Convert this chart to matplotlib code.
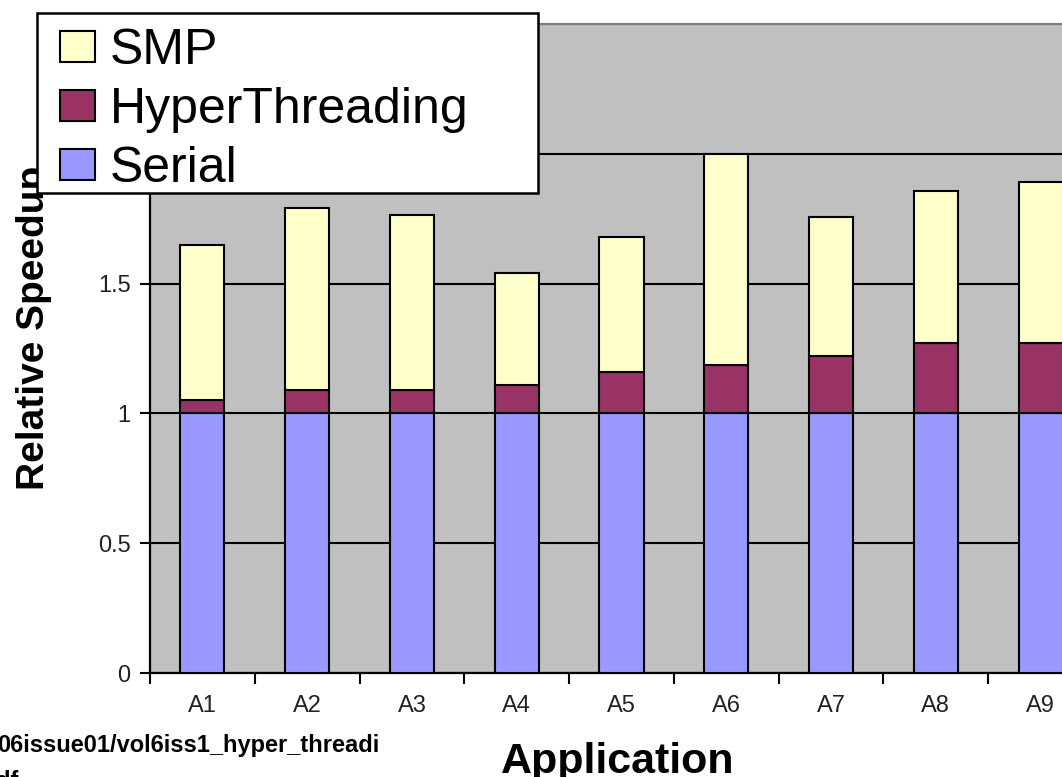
import matplotlib
matplotlib.use("Agg")
import matplotlib.pyplot as plt
from matplotlib.patches import Rectangle
import numpy as np

plt.rcParams['font.family'] = ['Liberation Sans', 'DejaVu Sans']

applications = ["A1", "A2", "A3", "A4", "A5", "A6", "A7", "A8", "A9"]
serial = [1.0, 1.0, 1.0, 1.0, 1.0, 1.0, 1.0, 1.0, 1.0]
hyperthreading = [0.05, 0.09, 0.09, 0.11, 0.16, 0.185, 0.22, 0.27, 0.27]
smp = [0.60, 0.70, 0.675, 0.43, 0.52, 0.815, 0.535, 0.585, 0.62]
y_ticks = [0, 0.5, 1, 1.5, 2, 2.5]
y_tick_labels = ["0", "0.5", "1", "1.5", "2", "2.5"]

W, H = 1062, 777
fig = plt.figure(figsize=(W / 100, H / 100), dpi=100)
fig.patch.set_facecolor("white")

# plot area in pixel terms: left 150, right 1093 (runs past the page edge), top 24, bottom 673
ax = fig.add_axes([150 / W, (H - 673) / H, (1093 - 150) / W, (673 - 24) / H])
ax.set_facecolor("#C0C0C0")

x = np.arange(len(applications))
lw = 1.5
edge = "black"
bottom_ht = np.array(serial)
bottom_smp = bottom_ht + np.array(hyperthreading)

b1 = ax.bar(x, serial, width=0.42, color="#9999FF", edgecolor=edge, linewidth=lw, zorder=3, label="Serial")
b2 = ax.bar(x, hyperthreading, width=0.42, bottom=bottom_ht, color="#993366", edgecolor=edge,
            linewidth=lw, zorder=3, label="HyperThreading")
b3 = ax.bar(x, smp, width=0.42, bottom=bottom_smp, color="#FFFFCC", edgecolor=edge,
            linewidth=lw, zorder=3, label="SMP")

ax.set_xlim(-0.5, len(applications) - 0.5)
ax.set_ylim(0, 2.5)

ax.set_yticks(y_ticks)
ax.set_yticklabels(y_tick_labels, fontsize=17, color="#222222")
ax.yaxis.grid(True, color="black", linewidth=1.5, zorder=1)
ax.set_axisbelow(True)
ax.tick_params(axis="y", direction="out", length=7, width=1.5, pad=7, color="black")

ax.set_xticks(x)
ax.set_xticklabels(applications, fontsize=17, color="#222222")
ax.tick_params(axis="x", which="major", length=0, pad=16)
ax.set_xticks(np.arange(len(applications) + 1) - 0.5, minor=True)
ax.tick_params(axis="x", which="minor", direction="out", length=8, width=1.5, color="black")

for side in ("left", "bottom"):
    ax.spines[side].set_color("black")
    ax.spines[side].set_linewidth(1.6)
ax.spines["top"].set_color("#808080")
ax.spines["top"].set_linewidth(1.6)
ax.spines["right"].set_visible(False)

ax.set_ylabel("Relative Speedup", fontsize=28, fontweight="bold")
ax.yaxis.set_label_coords((52 - 150) / 943, (673 - 328) / 649)
ax.set_xlabel("Application", fontsize=31, fontweight="bold")
ax.xaxis.set_label_coords((618 - 150) / 943, (673 - 742) / 649)

# legend frame: px x 37..538, y 13..193
frame = Rectangle((37 / W, 1 - 193 / H), (538 - 37) / W, (193 - 13) / H,
                  transform=fig.transFigure, facecolor="white", edgecolor="black",
                  linewidth=1.8, zorder=4)
fig.patches.append(frame)

leg = fig.legend(handles=[b3, b2, b1], labels=["SMP", "HyperThreading", "Serial"],
                 loc="upper left", bbox_to_anchor=(60 / W, 1 - 28 / H),
                 borderaxespad=0, fontsize=36, frameon=False,
                 handlelength=0.7, handleheight=0.6,
                 handletextpad=0.3, borderpad=0, labelspacing=0.26)
leg.set_zorder(5)
for h in leg.legend_handles:
    h.set_edgecolor("black")
    h.set_linewidth(1.5)

fig.text(-3 / W, 1 - 752 / H, "06issue01/vol6iss1_hyper_threadi", fontsize=17,
         fontweight="bold", ha="left", va="baseline")
fig.text(-4 / W, 1 - 788 / H, "df", fontsize=17, fontweight="bold", ha="left", va="baseline")

fig.savefig("out.png", dpi=100)
